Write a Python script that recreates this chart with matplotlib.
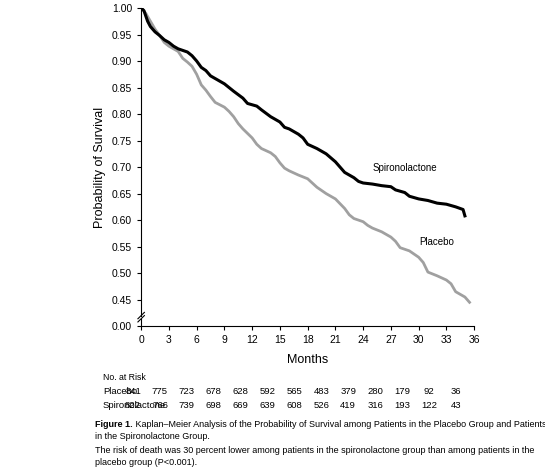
import matplotlib
matplotlib.use("Agg")
import matplotlib.pyplot as plt

spiro_t = [0,0.3,0.7,1,1.5,2,2.5,3,3.5,4,5,5.5,6,6.5,7,7.5,8,9,10,11,11.5,12.5,13,14,15,15.5,16,17,17.5,18,19,20,21,21.5,22,23,23.5,24,25,26,27,27.5,28.5,29,30,31,32,33,34,34.8,35]
spiro_s = [1,0.995,0.975,0.965,0.955,0.948,0.94,0.935,0.928,0.923,0.917,0.91,0.90,0.888,0.882,0.872,0.867,0.857,0.843,0.83,0.82,0.815,0.808,0.795,0.785,0.775,0.772,0.762,0.755,0.743,0.735,0.725,0.71,0.70,0.69,0.68,0.673,0.67,0.668,0.665,0.663,0.657,0.652,0.645,0.64,0.637,0.632,0.63,0.625,0.62,0.608]
plac_t = [0,0.5,1,1.5,2,2.5,3,4,4.5,5,5.5,6,6.5,7,7.5,8,9,9.5,10,10.5,11,12,12.5,13,14,14.5,15,15.5,16,17,18,18.5,19,20,21,22,22.5,23,24,24.5,25,26,27,27.5,28,29,30,30.5,31,32,33,33.5,34,35,35.5]
plac_s = [1,0.99,0.975,0.96,0.948,0.935,0.928,0.918,0.905,0.898,0.89,0.875,0.855,0.845,0.833,0.822,0.813,0.805,0.795,0.782,0.772,0.755,0.743,0.735,0.727,0.72,0.708,0.698,0.693,0.685,0.678,0.67,0.662,0.65,0.64,0.622,0.61,0.603,0.597,0.59,0.585,0.578,0.568,0.56,0.548,0.542,0.53,0.52,0.502,0.495,0.487,0.48,0.465,0.455,0.445]
risk_months = [0,3,6,9,12,15,18,21,24,27,30,33,36]
risk_placebo = [841,775,723,678,628,592,565,483,379,280,179,92,36]
risk_spiro = [822,766,739,698,669,639,608,526,419,316,193,122,43]
yticks = [0.40,0.45,0.50,0.55,0.60,0.65,0.70,0.75,0.80,0.85,0.90,0.95,1.00]
ylabels = ["0.00","0.45","0.50","0.55","0.60","0.65","0.70","0.75","0.80","0.85","0.90","0.95","1.00"]

plt.rcParams['font.family'] = ['Liberation Sans', 'DejaVu Sans']
fig = plt.figure(figsize=(5.45,4.7), dpi=100)
ax = fig.add_axes([0.259,0.306,0.611,0.677])
ax.plot(plac_t, plac_s, color='#a0a0a0', lw=2)
ax.plot(spiro_t, spiro_s, color='black', lw=2.2)
ax.set_xlim(0,36); ax.set_ylim(0.40,1.0)
ax.set_xticks(range(0,37,3)); ax.set_yticks(yticks); ax.set_yticklabels(ylabels)
ax.tick_params(labelsize=7.5, length=3, direction='out')
for s in ['top','right']: ax.spines[s].set_visible(False)
ax.spines['left'].set_bounds(0.42,1.0)
ax.plot([0,0],[0.40,0.414],color='black',lw=0.8,clip_on=False)
for yy in (0.414,0.42):
    ax.plot([-0.35,0.35],[yy-0.006,yy+0.006],color='black',lw=0.8,clip_on=False)
ax.set_xlabel('Months', fontsize=9, labelpad=6)
ax.set_ylabel('Probability of Survival', fontsize=9)
ax.text(25,0.693,'Spironolactone',fontsize=7)
ax.text(30.1,0.554,'Placebo',fontsize=7)

fig.text(103/545, 1-378/470, 'No. at Risk', fontsize=6.3, va='center')
fig.text(103/545, 1-392/470, 'Placebo', fontsize=6.8, va='center')
fig.text(103/545, 1-406/470, 'Spironolactone', fontsize=6.8, va='center')
for i,(p,s) in enumerate(zip(risk_placebo, risk_spiro)):
    x = (133 + i*26.9)/545
    fig.text(x, 1-392/470, str(p), fontsize=6.8, ha='center', va='center')
    fig.text(x, 1-406/470, str(s), fontsize=6.8, ha='center', va='center')
fs = 6.5
t1 = fig.text(95/545, 1-427/470, 'Figure 1.', fontsize=fs, weight='bold', va='baseline')
fig.canvas.draw()
fig.text(0,0,' Kaplan\u2013Meier Analysis of the Probability of Survival among Patients in the Placebo Group and Patients',
         fontsize=fs, va='baseline', transform=fig.transFigure)
bb = t1.get_window_extent()
fig.texts[-1].set_position((bb.x1/545, 1-427/470))
fig.text(95/545, 1-439/470, 'in the Spironolactone Group.', fontsize=fs, va='baseline')
fig.text(95/545, 1-453/470, 'The risk of death was 30 percent lower among patients in the spironolactone group than among patients in the', fontsize=fs, va='baseline')
fig.text(95/545, 1-465/470, 'placebo group (P<0.001).', fontsize=fs, va='baseline')
fig.savefig('out.png', dpi=100)
